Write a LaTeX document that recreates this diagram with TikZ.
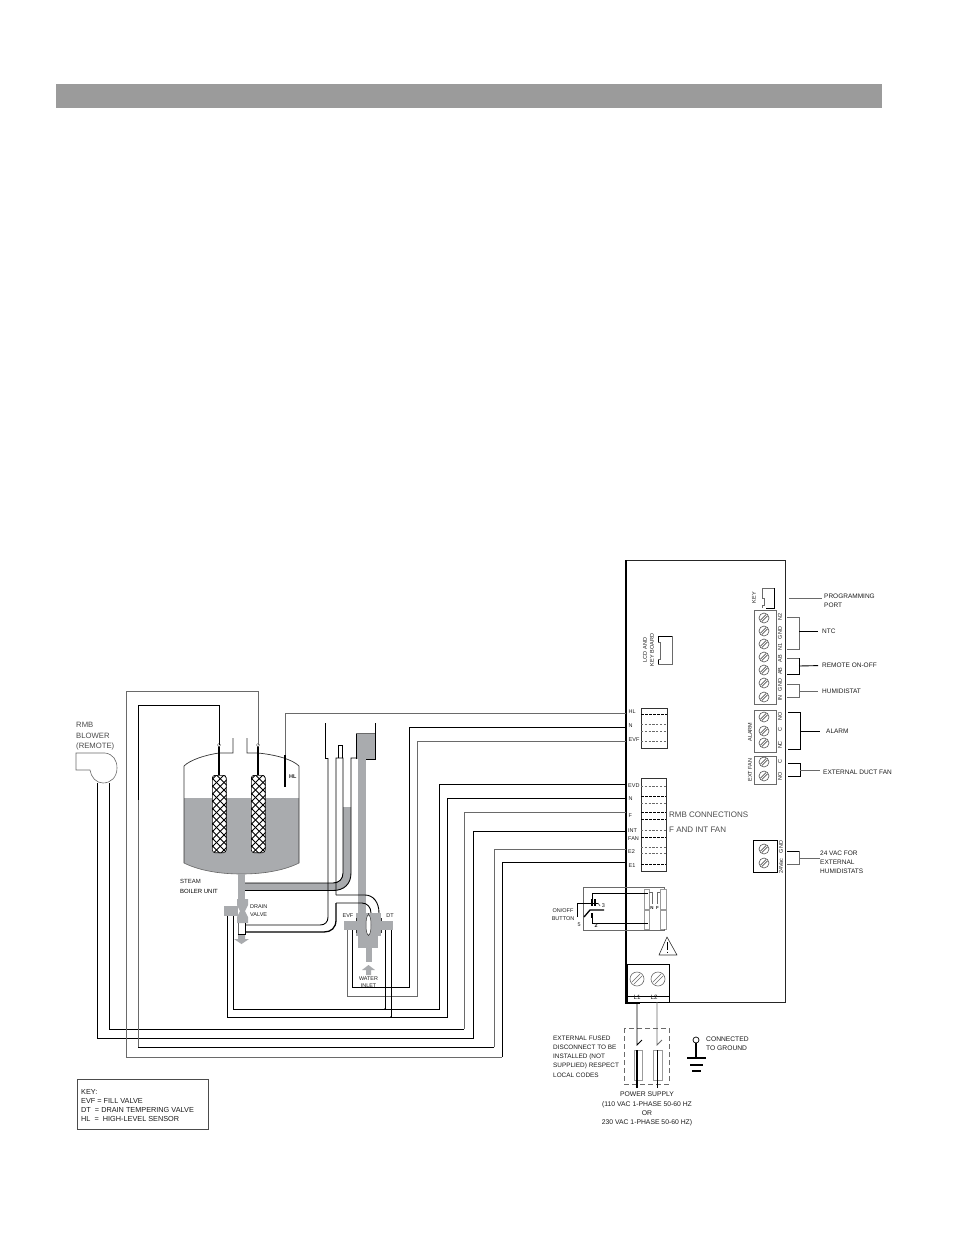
\documentclass[tikz,border=0pt]{standalone}
\usepackage{fontspec}
\setmainfont{Liberation Sans}
\usetikzlibrary{arrows.meta}
\definecolor{wat}{HTML}{A9ABAE}
\definecolor{bar}{HTML}{9B9B9B}
\definecolor{wg}{HTML}{6A6A6A}
\definecolor{tx}{HTML}{1C1C1C}
\definecolor{scr}{HTML}{555555}
\tikzset{
 x=1pt,y=-1pt,
 wire/.style={draw=black,line width=.8pt,line join=miter},
 wgray/.style={draw=wg,line width=.8pt},
 pipewall/.style={draw=black,line width=.9pt},
 blk/.style={draw=black,line width=.9pt},
 lab/.style={font=\fontsize{6.5}{9}\selectfont,text=tx,inner sep=0pt,anchor=west,align=left},
 labc/.style={lab,anchor=center,align=center},
 tiny/.style={font=\fontsize{5.5}{7.2}\selectfont,text=tx,inner sep=0pt,anchor=center,align=center},
 big/.style={font=\fontsize{8}{10.5}\selectfont,text=black!70,inner sep=0pt,anchor=west,align=left},
 dashline/.style={draw=wg,line width=.5pt,dash pattern=on 2.2pt off 1.6pt},
 dashthick/.style={draw=black,line width=.9pt,dash pattern=on 2.6pt off 1.4pt},
 gap/.style={shorten >=4pt},
 screw/.pic={\draw[scr,line width=.6pt] (0,0) circle (5);
   \draw[scr,line width=.6pt] (-3.6,2.2)--(2.2,-3.6) (-2.2,3.6)--(3.6,-2.2);},
 bigscrew/.pic={\draw[wg,line width=.6pt] (0,0) circle (7);
   \draw[wg,line width=.6pt] (-5,3)--(3,-5) (-3,5)--(5,-3);},
}
\begin{document}
\begin{tikzpicture}
\useasboundingbox (0,0) rectangle (954,1235);
\fill[white] (0,0) rectangle (954,1235);
\fill[bar] (56,84) rectangle (882,108);

% ---------- panel
\draw[draw=black!85,line width=1pt] (626,560)--(785,560)--(785,1002)--(626,1002);
\draw[draw=black,line width=1.8pt] (626,560)--(626,1003)--(640,1003);

% ---------- panel terminal labels
\node[tiny,anchor=west] (tHL) at (628.5,712) {HL};
\node[tiny,anchor=west] (tN1) at (628.5,725.5) {N};
\node[tiny,anchor=west] (tEVF) at (628.5,739.5) {EVF};
\node[tiny,anchor=west] (tEVD) at (628,786) {EVD};
\node[tiny,anchor=west] (tN2) at (628.5,799) {N};
\node[tiny,anchor=west] (tF) at (628.5,816) {F};
\node[tiny,anchor=west] (tINT) at (628,831) {INT};
\node[tiny,anchor=west] (tFAN) at (628,838.5) {FAN};
\node[tiny,anchor=west] (tE2) at (628,852) {E2};
\node[tiny,anchor=west] (tE1) at (628.5,866) {E1};
\foreach \n/\y in {cHL/713,cN1/727,cEVF/741,cEVD/784,cN2/798,cF/812,cINT/831,cE2/849,cE1/862}
  \coordinate (\n) at (626,\y);

% ---------- connector blocks on panel
\draw[draw=black!80,line width=.9pt] (641,708) rectangle (667,748);
\draw[dashthick] (641,714)--(667,714);
\foreach \y in {724,731,741} \draw[dashline] (641,\y)--(667,\y);
\draw[draw=black!80,line width=.9pt] (641,778) -- (666,778) -- (666,871) -- (641,871) -- (641,778);
\foreach \y in {786,803,830,847,853} \draw[dashline] (641,\y)--(666,\y);
\foreach \y in {796,812,819,837,864} \draw[dashthick] (641,\y)--(666,\y);
\node[big] (rmb) at (669,815) {RMB CONNECTIONS};
\node[big] (fint) at (669,830) {F AND INT FAN};

% LCD + KEY
\draw[blk] (658,642)--(658,636)--(672,636);
\draw[wgray] (672,636)--(672,664)--(658,664);
\draw[blk] (658,664)--(658,659);
\draw[wgray] (658,642)--(660,642)--(660,659)--(658,659);
\node[tiny,rotate=90] (lcd) at (648.5,650) {LCD AND\\KEY BOARD};
\draw[wgray] (774,588)--(762,588)--(762,598)--(764,598)--(764,605)--(762,605)--(762,608);
\draw[blk] (774,588)--(774,608)--(766,608);
\node[tiny,rotate=90] (key) at (754,597.5) {KEY};

% terminal blocks
\draw[draw=wg,line width=.9pt] (754,610) rectangle (776,704);
\foreach \y in {618,631,644,657,670,683,697} \pic at (764,\y) {screw};
\foreach \y/\t in {617/N2,633/GND,647/N1,658.5/AB,671/AB,685/GND,698/IN}
  \node[tiny,rotate=90] at (780,\y) {\t};
\draw[draw=wg,line width=.9pt] (754,710) rectangle (776,752);
\foreach \y in {717,731,743} \pic at (764,\y) {screw};
\foreach \y/\t in {716/NO,730/C,745/NC} \node[tiny,rotate=90] at (780,\y) {\t};
\node[tiny,rotate=90] (alarmv) at (750,732) {ALARM};
\draw[draw=wg,line width=.9pt] (754,756) rectangle (776,784);
\foreach \y in {762,776} \pic at (764,\y) {screw};
\foreach \y/\t in {762/C,776/NO} \node[tiny,rotate=90] at (780,\y) {\t};
\node[tiny,rotate=90] (extfan) at (750,770) {EXT FAN};
\draw[draw=black,line width=.9pt] (753,840) rectangle (777,872);
\foreach \y in {849,863} \pic at (764,\y) {screw};
\node[tiny,rotate=90] at (781,847) {GND};
\node[tiny,rotate=90] at (781,866) {24Vac};

% right labels with brackets
\node[lab] (lprog) at (824,600.5) {PROGRAMMING\\PORT};
\coordinate (pp) at (822,598);
\draw[wgray] (789,598)--(pp);
\node[lab] (lntc) at (822,631) {NTC};
\draw[wgray] (787,617)--(799,617)--(799,649)--(787,649);
\draw[blk,gap] (799,631)--(lntc.west);
\node[lab] (lrem) at (822,665.5) {REMOTE ON-OFF};
\draw[wgray] (787,658)--(799,658);
\draw[blk] (799,658)--(799,674)--(787,674);
\draw[blk,gap] (799,666)--(lrem.west);
\node[lab] (lhum) at (822,691) {HUMIDISTAT};
\draw[wgray] (787,684)--(799,684)--(799,697)--(787,697);
\draw[wgray,gap] (799,691)--(lhum.west);
\node[lab] (lala) at (826,731) {ALARM};
\draw[blk] (788,712)--(800,712)--(800,749)--(788,749);
\draw[blk,shorten >=6pt] (800,731)--(lala.west);
\node[lab] (lduct) at (823,772) {EXTERNAL DUCT FAN};
\draw[blk] (788,763)--(800,763)--(800,776)--(788,776);
\coordinate (dd) at (820,770);
\draw[wgray] (800,770)--(dd);
\node[lab] (l24) at (820,862) {24 VAC FOR\\EXTERNAL\\HUMIDISTATS};
\draw[blk] (787,851)--(799,851);
\draw[wgray] (799,851)--(799,864)--(787,864);
\coordinate (vv) at (820,858);
\draw[wgray] (799,858)--(vv);

% on/off connector
\foreach \x/\w in {644/5,660/6} \foreach \y/\h in {889/20,910/19}
  \draw[draw=bar,line width=.8pt,fill=white] (\x,\y) rectangle ++(\w,\h);
\draw[wgray] (649,892)--(652,892)--(652,904);
\draw[wgray] (660,892)--(657,892)--(657,904);
\node[tiny,font=\fontsize{4.4}{5}\selectfont\bfseries] (sN) at (652,908) {N};
\node[tiny,font=\fontsize{4.4}{5}\selectfont\bfseries] (sF) at (657.5,908) {F};
\draw[wgray] (664,889)--(664,887)--(583,887)--(583,930)--(664,930)--(664,929);
\draw[wire] (648,893.5)--(592,893.5)--(592,902);
\draw[wire] (592,917)--(592,923)--(648,923);
\draw[wire] (577,917)--(577,903)--(598,903);
\draw[wire,line width=1.3pt] (584,917)--(590,910)--(604,910);
\draw[draw=black,line width=1.4pt] (592,899)--(592,906) (595,899)--(595,906) (592,913)--(592,918);
\draw[wgray] (598,903)--(600,906);
\node[tiny] (sw3) at (603.5,906) {3};
\node[tiny,font=\fontsize{5.4}{6}\selectfont] (sw5) at (579,925) {5};
\node[tiny,font=\fontsize{5.4}{6}\selectfont\bfseries] (sw2) at (596,926) {2};
\node[tiny] (onoff) at (563,914.5) {ON/OFF\\BUTTON};

% warning
\draw[draw=black!80,line width=.6pt,line join=round] (667,937)--(677,955)--(659,955)--cycle;
\draw[draw=black,line width=1pt] (667.5,942)--(667.5,949.5) (667.5,951.5)--(667.5,953);

% L1 L2
\draw[draw=black,line width=.9pt] (627,964) rectangle (669,1002);
\draw[draw=black,line width=.7pt] (627,996)--(669,996);
\pic at (637,979) {bigscrew};
\pic at (658,979) {bigscrew};
\node[tiny,font=\fontsize{6.2}{7}\selectfont] (tL1) at (637,997) {L1};
\node[tiny,font=\fontsize{6.2}{7}\selectfont] (tL2) at (654,997) {L2};

% power supply
\draw[draw=wg,line width=.7pt,dash pattern=on 5pt off 3pt] (624,1028) rectangle (669,1084);
\draw[draw=bar,line width=.7pt] (634,1050) rectangle (642,1080);
\draw[draw=bar,line width=.7pt] (653,1050) rectangle (662,1080);
\coordinate (pa) at (637,1002); \coordinate (pb) at (657,1002);
\coordinate (sA) at (637,1045); \coordinate (sB) at (657,1045);
\draw[wire] (pa)--(sA)--(642,1040);
\draw[wgray] (pb)--(sB)--(662,1040);
\draw[draw=black,line width=1.5pt] (637,1050)--(637,1088);
\draw[wire] (657,1050)--(657,1088);
\node[lab,font=\fontsize{6.4}{9.25}\selectfont] (fuse) at (553,1056.5) {EXTERNAL FUSED\\DISCONNECT TO BE\\INSTALLED (NOT\\SUPPLIED) RESPECT\\LOCAL CODES};
\node[labc,font=\fontsize{6.8}{9.3}\selectfont] (psu) at (647,1109) {POWER SUPPLY\\(110 VAC 1-PHASE 50-60 HZ\\OR\\230 VAC 1-PHASE 50-60 HZ)};
% ground
\node[circle,draw=black,line width=.7pt,inner sep=0pt,minimum size=6pt] (gnd) at (696,1040) {};
\coordinate (gndb) at (696,1058);
\draw[draw=black,line width=1.2pt] (gnd)--(gndb);
\draw[draw=black,line width=1.3pt] (687,1058)--(706,1058) (690,1065)--(703,1065) (692,1071)--(701,1071);
\node[lab,font=\fontsize{6.7}{9}\selectfont] (lgnd) at (706,1043.5) {CONNECTED\\TO GROUND};

% key
\node[draw=black!70,line width=.8pt,minimum width=131pt,minimum height=50pt,inner sep=0pt] (keybox) at (142.5,1104) {};
\node[lab,font=\fontsize{7.3}{9}\selectfont] (keytxt) at (81,1105.5) {KEY:\\EVF = FILL VALVE\\DT\ \ = DRAIN TEMPERING VALVE\\HL\ \ =\ \ HIGH-LEVEL SENSOR};

% ---------- tank
\fill[wat] (184,798)--(299,798)--(299,863) .. controls (285,870) and (265,874) .. (241.5,874) .. controls (218,874) and (198,870) .. (184,863)--cycle;
\draw[draw=black!80,line width=.7pt] (184,863)--(184,766) .. controls (190,760) and (205,755) .. (219,753)--(233,753)--(233,738);
\draw[draw=black!80,line width=.7pt] (299,863)--(299,766) .. controls (293,760) and (278,755) .. (258,753)--(247,753)--(247,738);
\draw[draw=black!60,line width=.6pt] (184,863) .. controls (198,870) and (218,874) .. (241.5,874) .. controls (265,874) and (285,870) .. (299,863);
% electrodes
\foreach \e/\xa in {a/212,b/251}{
 \begin{scope}
  \path[clip,rounded corners=3pt] (\xa,775) rectangle ++(14.5,78);
  \fill[white] (\xa,775) rectangle ++(14.5,78);
  \foreach \k in {-3,...,18}{
    \draw[black,line width=.9pt] (\xa-3,775+\k*7.5)--++(24,24);
    \draw[black,line width=.9pt] (\xa-3,775+\k*7.5)--++(24,-24);
  }
  \draw[black,line width=1.2pt,rounded corners=3pt] (\xa,775) rectangle ++(14.5,78);
 \end{scope}
}
\coordinate (e1) at (219,745); \coordinate (e2) at (258,745);
\draw[draw=black,line width=1.4pt] (e1)--(219,775) (e2)--(258,775);
\draw[wgray,fill=white,line width=.4pt] (e1) circle (1.6) (e2) circle (1.6);
\node[tiny,font=\fontsize{6}{7}\selectfont,anchor=west] (steam) at (180,881) {STEAM};
\node[tiny,font=\fontsize{6}{7}\selectfont,anchor=west,text=black] (boiler) at (180,891.5) {BOILER UNIT};

% HL probe
\coordinate (hlp) at (285,755);
\draw[draw=black,line width=2pt] (hlp)--(285,787);
\node[tiny,font=\fontsize{5.5}{7}\selectfont\bfseries,anchor=west] (hl) at (289,777) {HL};

% ---------- pipes
\fill[wat] (238,874) rectangle (245,900);
\fill[wat] (224,906) rectangle (238,916);
\fill[wat] (238,899)--(248,899)--(248,905)--(245,911)--(248,917)--(248,923)--(237,923)--(237,917)--(240,911)--(237,905)--(237,899)--cycle;
\node[tiny,anchor=west,align=left] (drain) at (250,910.5) {DRAIN\\VALVE};
\fill[wat] (238,934) -- (245,934) -- (245,939) -- (249,939) -- (241.5,944) -- (234,939) -- (238,939) -- cycle;
\draw[draw=black,line width=1pt] (245,923)--(245,934)--(238,934);
\draw[draw=black!60,line width=.5pt] (238,923)--(238,934);
\fill[wat] (245,883)--(333,883) .. controls (339,883) and (343,879) .. (343,873)--(343,807)--(351,807)--(351,873) .. controls (351,884) and (344,890.5) .. (333,890.5)--(245,890.5)--cycle;
\draw[pipewall] (245,883)--(333,883) .. controls (339,883) and (343,879) .. (343,873)--(343,758)--(336,758)--(336,895);
\draw[pipewall] (245,890.5)--(333,890.5) .. controls (344,890.5) and (351,884) .. (351,873)--(351,758)--(358,758);
\draw[draw=black,line width=.8pt] (328,758)--(325,758)--(325,723);
\draw[pipewall] (328,758)--(328,917) .. controls (328,922) and (325,925) .. (320,925)--(245,925);
\draw[draw=black,line width=1.3pt] (336,903)--(336,920) .. controls (336,928) and (331,932) .. (324,932)--(245,932);
\draw[draw=black,line width=.9pt] (338.5,758)--(338.5,745)--(342,745)--(342,758);
\fill[wat] (356,733) rectangle (375,759);
\draw[draw=black,line width=1.6pt] (356.5,759)--(356.5,733);
\draw[draw=wg,line width=.7pt] (356,733)--(375,733);
\draw[draw=black,line width=.8pt] (375,723)--(375,759)--(366,759);
\fill[wat] (358,759) rectangle (366,915);
\draw[pipewall] (336,895)--(365,895) .. controls (373,895) and (379,902) .. (379,913);
\draw[pipewall] (336,903)--(362,903) .. controls (367,903) and (371,907) .. (371,913);
% main valve
\fill[wat] (344,921) rectangle (356,930);
\fill[wat] (381,921) rectangle (393,930);
\fill[wat] (356,913)--(381,913)--(381,936)--(356,936)--cycle;
\fill[wat] (358,936) rectangle (378,948);
\fill[wat] (366,948) rectangle (372,962);
\draw[draw=black!80,line width=.7pt] (356,918)--(356,921) (356,930)--(356,933) (381,918)--(381,921) (381,930)--(381,933);
\draw[draw=black!80,fill=white,line width=.5pt] (366,925) .. controls (366,919) and (367,915) .. (368.5,915) .. controls (370,915) and (371,919) .. (371,925) .. controls (371,931) and (370,935) .. (368.5,935) .. controls (367,935) and (366,931) .. (366,925) -- cycle;
\draw[draw=black!70,line width=.5pt] (368.5,913)--(368.5,915) (368.5,935)--(368.5,936);
\fill[wat] (366,975)--(371,975)--(371,970)--(375,970)--(368.5,965)--(362,970)--(366,970)--cycle;
\node[tiny,font=\fontsize{5.4}{7}\selectfont] (winlet) at (368.5,982.5) {WATER\\INLET};
\node[tiny] (levf) at (348,915.5) {EVF};
\node[tiny] (ldt) at (390,915.5) {DT};

% ---------- blower
\node[lab,font=\fontsize{7.7}{10.4}\selectfont,text=black!70] (rmblab) at (76,736.5) {RMB\\BLOWER\\(REMOTE)};
\draw[draw=wg,line width=.6pt] (76,770)--(76,753)--(105,753) .. controls (113,754) and (117,760) .. (117,768) .. controls (117,777) and (111,783) .. (103,783) .. controls (96,783) and (91,777) .. (90,770)--cycle;
\coordinate (bA) at (97,783); \coordinate (bB) at (109,783);

% ---------- wires
\draw[wgray] (cHL)--(285,713)--(hlp);
\draw[wire] (cN1)--(409,727)--(409,987)--(352,987)--(352,930);
\draw[wgray] (cEVF)--(417,741)--(417,996)--(347,996)--(347,930);
\draw[wire] (cEVD)--(439,784)--(439,1009)--(233,1009)--(233,916);
\draw[wire] (cN2)--(447,798)--(447,1017)--(227,1017)--(227,916);
\draw[wgray] (cF)--(464,812)--(464,1029);
\draw[wire] (464,1029)--(109,1029)--(bB);
\draw[wire] (cINT)--(473,831)--(473,1038)--(97,1038)--(bA);
\draw[wgray,line width=1pt] (cE2)--(494,849)--(494,1047);
\draw[wire] (494,1047)--(138,1047);
\draw[wire] (e1)--(219,705)--(138,705)--(138,800);
\draw[wgray,line width=1pt] (138,800)--(138,1047);
\draw[wire] (cE1)--(502,862)--(502,1057);
\draw[wgray] (502,1057)--(126,1057)--(126,691.7);
\draw[wgray] (126,691.7)--(258,691.7)--(e2);
\draw[wire] (385,930)--(385,1009);
\draw[wire] (391,930)--(391,1017);
\fill (385,1009) circle (.9) (391,1017) circle (.9);
\end{tikzpicture}
\end{document}
